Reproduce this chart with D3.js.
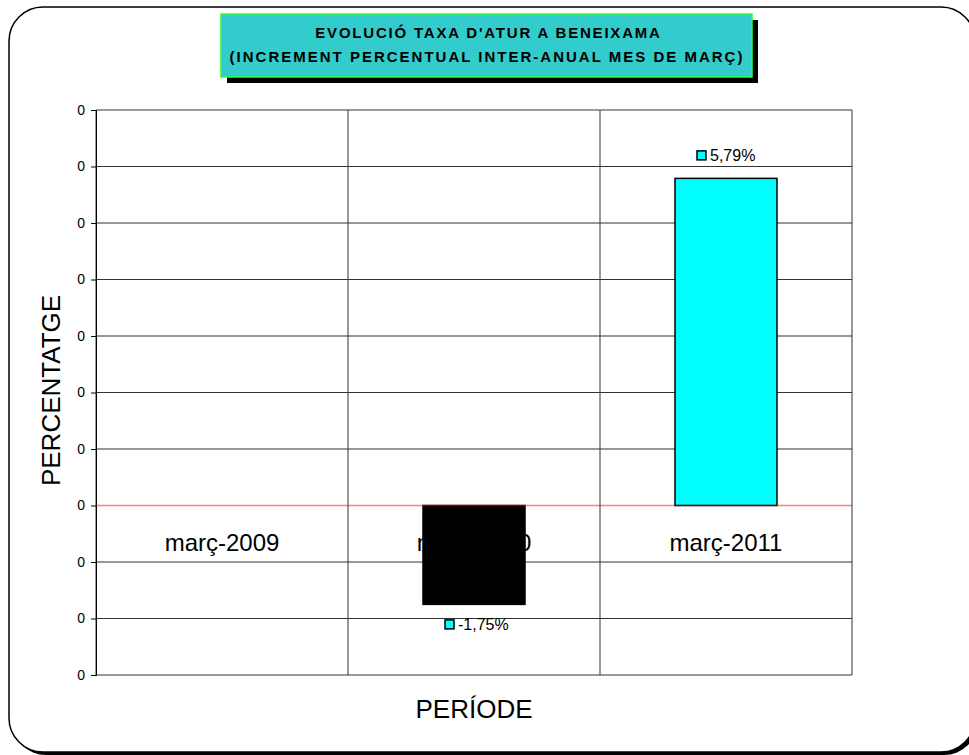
<!DOCTYPE html>
<html>
<head>
<meta charset="utf-8">
<script src="https://cdn.jsdelivr.net/npm/d3@7"></script>
<style>
  body { margin: 0; background: #fff; }
  svg { display: block; font-family: Arial, "Liberation Sans", sans-serif; }
  .yaxis text { font-size: 14px; font-family: Arial, "Liberation Sans", sans-serif; }
</style>
</head>
<body>
<div id="chart"></div>
<script>
// Data
var categories = ["març-2009", "març-2010", "març-2011"];
var values = [null, -0.0175, 0.0579];
var valueLabels = ["", "-1,75%", "5,79%"];
var barColors = ["#000000", "#000000", "#00FFFF"];
var yTicks = [-0.03, -0.02, -0.01, 0, 0.01, 0.02, 0.03, 0.04, 0.05, 0.06, 0.07];

var svgWidth = 969;
var svgHeight = 755;

var margin = { top: 110, right: 117, bottom: 80, left: 96 };
var width = svgWidth - margin.left - margin.right;
var height = svgHeight - margin.top - margin.bottom;

var svg = d3.select("#chart")
    .append("svg")
    .attr("width", svgWidth)
    .attr("height", svgHeight);

// Outer rounded frame with shadow
svg.append("rect")
    .attr("x", 12).attr("y", 10)
    .attr("width", 966).attr("height", 745)
    .attr("rx", 34).attr("ry", 34)
    .attr("fill", "#000");
svg.append("rect")
    .attr("x", 9).attr("y", 7)
    .attr("width", 966).attr("height", 745)
    .attr("rx", 34).attr("ry", 34)
    .attr("fill", "#fff")
    .attr("stroke", "#000")
    .attr("stroke-width", 1.5);

var chartGroup = svg.append("g")
    .attr("transform", `translate(${margin.left}, ${margin.top})`);

// Scales
var xScale = d3.scaleBand()
    .domain(categories)
    .range([0, width]);

var yScale = d3.scaleLinear()
    .domain([-0.03, 0.07])
    .range([height, 0]);

// Horizontal gridlines (zero line drawn separately in red)
chartGroup.append("g")
    .selectAll("line")
    .data(yTicks.filter(d => d !== 0))
    .enter()
    .append("line")
    .attr("x1", 0).attr("x2", width)
    .attr("y1", d => yScale(d)).attr("y2", d => yScale(d))
    .attr("stroke", "#333")
    .attr("stroke-width", 1);

// Vertical gridlines (category boundaries)
chartGroup.append("g")
    .selectAll("line")
    .data(categories.concat(["end"]))
    .enter()
    .append("line")
    .attr("x1", (d, i) => i * xScale.bandwidth())
    .attr("x2", (d, i) => i * xScale.bandwidth())
    .attr("y1", 0).attr("y2", height)
    .attr("stroke", "#333")
    .attr("stroke-width", 1);

// Left axis
var leftAxis = d3.axisLeft(yScale)
    .tickValues(yTicks)
    .tickFormat(d => "0")
    .tickSize(5)
    .tickPadding(6);

var axisG = chartGroup.append("g")
    .attr("class", "yaxis")
    .call(leftAxis)
    .attr("font-size", 14)
    .attr("font-family", null);
axisG.select(".domain").attr("stroke", "#000");
axisG.selectAll("text").attr("fill", "#000");

// Category labels (drawn below the bars)
chartGroup.append("g")
    .selectAll("text")
    .data(categories)
    .enter()
    .append("text")
    .attr("x", d => xScale(d) + xScale.bandwidth() / 2)
    .attr("y", yScale(0) + 45)
    .attr("text-anchor", "middle")
    .attr("font-size", "24px")
    .attr("fill", "#000")
    .text(d => d);

// Bars
var barW = 102;
var barData = categories.map((c, i) => ({ cat: c, value: values[i], label: valueLabels[i], color: barColors[i] }))
    .filter(d => d.value !== null);

chartGroup.append("g")
    .selectAll("rect")
    .data(barData)
    .enter()
    .append("rect")
    .attr("x", d => xScale(d.cat) + xScale.bandwidth() / 2 - barW / 2)
    .attr("y", d => yScale(Math.max(0, d.value)))
    .attr("width", barW)
    .attr("height", d => Math.abs(yScale(d.value) - yScale(0)))
    .attr("fill", d => d.color)
    .attr("stroke", "#000")
    .attr("stroke-width", 1.5);

// Zero line
chartGroup.append("line")
    .attr("x1", 0).attr("x2", width)
    .attr("y1", yScale(0)).attr("y2", yScale(0))
    .attr("stroke", "#ff0000")
    .attr("stroke-opacity", 0.5)
    .attr("stroke-width", 1.5);

// Data labels with small legend key
var labelG = chartGroup.append("g")
    .selectAll("g")
    .data(barData)
    .enter()
    .append("g")
    .attr("transform", d => {
        var cx = xScale(d.cat) + xScale.bandwidth() / 2;
        var cy = d.value >= 0 ? yScale(d.value) - 23 : yScale(d.value) + 20;
        return `translate(${cx}, ${cy})`;
    });

labelG.append("rect")
    .attr("x", -29).attr("y", -4.5)
    .attr("width", 9).attr("height", 9)
    .attr("fill", "#00FFFF")
    .attr("stroke", "#000")
    .attr("stroke-width", 1.5);

labelG.append("text")
    .attr("x", -16)
    .attr("y", 6)
    .attr("font-size", "16px")
    .attr("fill", "#000")
    .text(d => d.label);

// Axis titles
svg.append("text")
    .attr("transform", `translate(60, ${margin.top + height / 2 - 2}) rotate(-90)`)
    .attr("text-anchor", "middle")
    .attr("font-size", "26px")
    .text("PERCENTATGE");

svg.append("text")
    .attr("x", margin.left + width / 2)
    .attr("y", 718)
    .attr("text-anchor", "middle")
    .attr("font-size", "26px")
    .text("PERÍODE");

// Title box with shadow
svg.append("rect")
    .attr("x", 227).attr("y", 20)
    .attr("width", 531).attr("height", 63)
    .attr("fill", "#000");
svg.append("rect")
    .attr("x", 221).attr("y", 14)
    .attr("width", 531).attr("height", 63)
    .attr("fill", "#33CCCC")
    .attr("stroke", "#33FF33")
    .attr("stroke-width", 1.5);

svg.append("text")
    .attr("x", 488.5).attr("y", 38)
    .attr("text-anchor", "middle")
    .attr("font-size", "15px")
    .attr("font-weight", "bold")
    .attr("letter-spacing", "1.8px")
    .text("EVOLUCIÓ TAXA D'ATUR A BENEIXAMA");

svg.append("text")
    .attr("x", 487).attr("y", 62)
    .attr("text-anchor", "middle")
    .attr("font-size", "15px")
    .attr("font-weight", "bold")
    .attr("letter-spacing", "2px")
    .text("(INCREMENT PERCENTUAL INTER-ANUAL MES DE MARÇ)");
</script>
</body>
</html>
